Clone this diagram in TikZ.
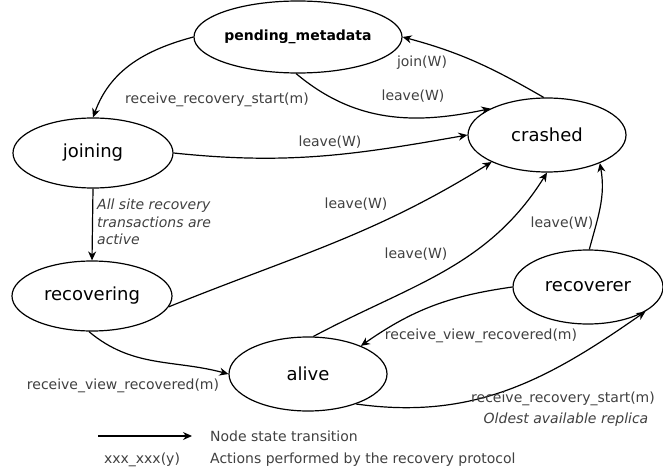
\documentclass[tikz,border=0pt]{standalone}
\usepackage{fontspec}
\setmainfont{DejaVu Sans}
\usetikzlibrary{shapes.geometric,arrows.meta}
\definecolor{actgray}{RGB}{64,64,64}

\begin{document}
\begin{tikzpicture}[x=1pt,y=1pt,font=\fontsize{14}{17}\selectfont,
  state/.style={ellipse,draw,line width=1.2pt,inner sep=0pt,
    minimum width=158pt,minimum height=72pt,font=\fontsize{18}{20}\selectfont},
  act/.style={text=actgray,inner sep=1pt},
  actit/.style={act,font=\fontsize{14}{17.5}\selectfont\itshape},
  trans/.style={line width=1.2pt,-{Stealth[length=9pt,width=8pt]}}]
\path[use as bounding box] (0,0) rectangle (663,472);
\node[state,font=\bfseries\fontsize{14}{16}\selectfont] (pend) at (298,435) {pending\_metadata};
\node[state,minimum width=160pt,minimum height=70pt] (join) at (93,319) {joining};
\node[state,minimum width=160pt,minimum height=70pt] (recg) at (92,176) {recovering};
\node[state,minimum height=74pt] (crash) at (547,337) {crashed};
\node[state,minimum width=150pt,minimum height=74pt] (recr) at (588,185) {recoverer};
\node[state,minimum height=74pt] (alive) at (308,98) {alive};
\draw[trans] (pend.west) to[out=195,in=70] (join.north);
\draw[trans] (pend.-93) to[out=-40,in=192] (crash.155);
\draw[trans] (crash.95) to[out=150,in=-15] (pend.east);
\draw[trans] (join.east) to[out=-6,in=190] (crash.west);
\draw[trans] (join.south) -- (recg.north);
\draw[trans] (recg.-8) to[out=22,in=212] (crash.206);
\draw[trans] (alive.82) to[out=28,in=238] (crash.south);
\draw[trans] (recr.88) to[out=75,in=-80] (crash.-28);
\draw[trans] (recg.-95) to[out=-40,in=165] (alive.west);
\draw[trans] (recr.west) to[out=188,in=35] (alive.28);
\draw[trans] (alive.-32) to[out=-8,in=215] (recr.-23);
\node[act] (lbstart) at (217,372) {receive\_recovery\_start(m)};
\node[act] (lbleaveA) at (413,376) {leave(W)};
\node[act] (lbjoin) at (422,409) {join(W)};
\node[act] (lbleaveB) at (330,330) {leave(W)};
\node[actit,anchor=west,align=left] (lbactive) at (96,250) {All site recovery\\transactions are\\active};
\node[act] (lbleaveC) at (356,268) {leave(W)};
\node[act] (lbleaveD) at (416,218) {leave(W)};
\node[act] (lbleaveE) at (562,249) {leave(W)};
\node[act] (lbviewA) at (123,86) {receive\_view\_recovered(m)};
\node[act] (lbviewB) at (481,136) {receive\_view\_recovered(m)};
\node[act] (lbstartB) at (563,73) {receive\_recovery\_start(m)};
\node[actit] (lboldest) at (566,52) {Oldest available replica};
\coordinate (lgA) at (98,36);
\coordinate (lgB) at (192,36);
\draw[trans] (lgA) -- (lgB);
\node[act,anchor=west] (lgtrans) at (209,36) {Node state transition};
\node[act] (lgxxx) at (142,12) {xxx\_xxx(y)};
\node[act,anchor=west] (lgacts) at (209,12) {Actions performed by the recovery protocol};
\end{tikzpicture}
\end{document}
